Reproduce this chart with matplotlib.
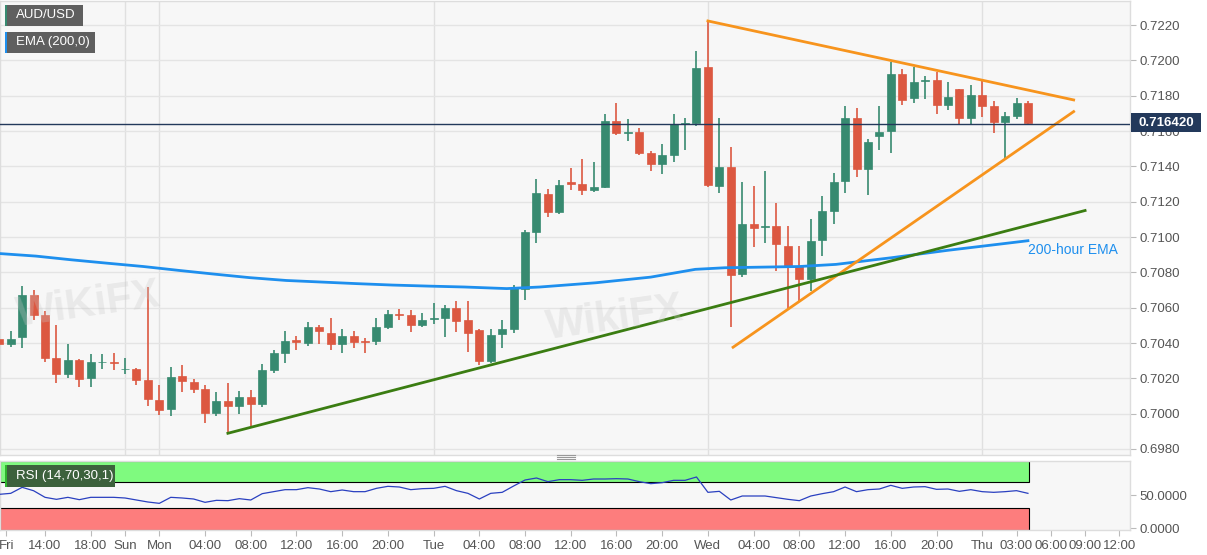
import numpy as np
import matplotlib.pyplot as plt
from matplotlib.patches import Rectangle

plt.rcParams['font.family'] = ['Liberation Sans', 'DejaVu Sans']

W, H = 1207, 555

# hourly candles, hour 0 = Fri 14:00 (weekend gap collapsed)
hours = np.arange(-4, 87)
opens = [0.70421, 0.70393, 0.70434, 0.70674, 0.70560, 0.70314, 0.70224, 0.70303, 0.70200, 0.70290,
         0.70292, 0.70251, 0.70253, 0.70191, 0.70078, 0.70026, 0.70211, 0.70181, 0.70140, 0.70003,
         0.70073, 0.70041, 0.70097, 0.70056, 0.70247, 0.70341, 0.70416, 0.70401, 0.70491, 0.70459,
         0.70393, 0.70438, 0.70410, 0.70412, 0.70491, 0.70566, 0.70556, 0.70500, 0.70535, 0.70541,
         0.70598, 0.70528, 0.70472, 0.70297, 0.70453, 0.70478, 0.70707, 0.71030, 0.71246, 0.71139,
         0.71312, 0.71299, 0.71265, 0.71285, 0.71655, 0.71590, 0.71595, 0.71477, 0.71411, 0.71464,
         0.71641, 0.71643, 0.71965, 0.71291, 0.71394, 0.70793, 0.71075, 0.71056, 0.71062, 0.70950,
         0.70835, 0.70762, 0.70984, 0.71148, 0.71315, 0.71673, 0.71385, 0.71569, 0.71598, 0.71921,
         0.71789, 0.71882, 0.71888, 0.71750, 0.71837, 0.71675, 0.71803, 0.71743, 0.71652, 0.71686,
         0.71760]
highs = [0.70430, 0.70466, 0.70725, 0.70701, 0.70581, 0.70504, 0.70397, 0.70312, 0.70335, 0.70335,
         0.70346, 0.70316, 0.70260, 0.70719, 0.70163, 0.70262, 0.70273, 0.70196, 0.70163, 0.70121,
         0.70172, 0.70131, 0.70132, 0.70283, 0.70363, 0.70468, 0.70438, 0.70519, 0.70504, 0.70541,
         0.70478, 0.70466, 0.70431, 0.70543, 0.70584, 0.70594, 0.70584, 0.70571, 0.70626, 0.70613,
         0.70635, 0.70635, 0.70478, 0.70481, 0.70532, 0.70726, 0.71039, 0.71327, 0.71270, 0.71321,
         0.71389, 0.71439, 0.71426, 0.71697, 0.71759, 0.71670, 0.71618, 0.71486, 0.71528, 0.71697,
         0.71673, 0.72053, 0.72223, 0.71673, 0.71507, 0.71310, 0.71291, 0.71376, 0.71195, 0.71063,
         0.70950, 0.71101, 0.71233, 0.71360, 0.71741, 0.71728, 0.71552, 0.71741, 0.71993, 0.71949,
         0.71963, 0.71912, 0.71935, 0.71880, 0.71840, 0.71859, 0.71897, 0.71771, 0.71709, 0.71789,
         0.71771]
lows = [0.70294, 0.70378, 0.70374, 0.70528, 0.70294, 0.70172, 0.70200, 0.70149, 0.70153, 0.70251,
        0.70247, 0.70222, 0.70163, 0.70044, 0.69994, 0.69984, 0.70121, 0.70119, 0.69947, 0.69984,
        0.69891, 0.69998, 0.69928, 0.70037, 0.70228, 0.70289, 0.70359, 0.70384, 0.70397, 0.70363,
        0.70346, 0.70369, 0.70346, 0.70388, 0.70481, 0.70528, 0.70463, 0.70491, 0.70509, 0.70434,
        0.70463, 0.70350, 0.70275, 0.70288, 0.70369, 0.70457, 0.70645, 0.70966, 0.71116, 0.71130,
        0.71267, 0.71237, 0.71257, 0.71280, 0.71580, 0.71543, 0.71462, 0.71374, 0.71359, 0.71424,
        0.71492, 0.71630, 0.71282, 0.71248, 0.70491, 0.70774, 0.70942, 0.70965, 0.70807, 0.70594,
        0.70632, 0.70696, 0.70890, 0.71071, 0.71250, 0.71340, 0.71238, 0.71492, 0.71475, 0.71746,
        0.71757, 0.71780, 0.71696, 0.71719, 0.71635, 0.71633, 0.71679, 0.71588, 0.71447, 0.71667,
        0.71639]
closes = [0.70393, 0.70421, 0.70673, 0.70560, 0.70313, 0.70224, 0.70303, 0.70198, 0.70290, 0.70292,
          0.70288, 0.70254, 0.70191, 0.70082, 0.70022, 0.70209, 0.70185, 0.70140, 0.70003, 0.70073,
          0.70041, 0.70097, 0.70056, 0.70245, 0.70341, 0.70410, 0.70404, 0.70491, 0.70466, 0.70393,
          0.70438, 0.70406, 0.70403, 0.70491, 0.70566, 0.70558, 0.70500, 0.70530, 0.70539, 0.70598,
          0.70522, 0.70457, 0.70297, 0.70444, 0.70479, 0.70710, 0.71030, 0.71248, 0.71139, 0.71293,
          0.71299, 0.71265, 0.71284, 0.71655, 0.71590, 0.71594, 0.71477, 0.71411, 0.71464, 0.71642,
          0.71643, 0.71955, 0.71297, 0.71394, 0.70787, 0.71071, 0.71052, 0.71064, 0.70958, 0.70837,
          0.70762, 0.70980, 0.71148, 0.71313, 0.71673, 0.71385, 0.71535, 0.71596, 0.71921, 0.71776,
          0.71880, 0.71890, 0.71750, 0.71790, 0.71671, 0.71803, 0.71743, 0.71652, 0.71686, 0.71760,
          0.71647]

# 200-hour EMA
ema_hours = [-3.9, -0.8, 2.3, 5.4, 8.6, 11.7, 14.8, 17.9, 21.1, 24.2, 27.3, 30.4, 33.6, 36.7,
             40.4, 43.3, 48.2, 53.0, 56.9, 59.5, 66.0, 69.2, 74.1, 78.9, 86.0]
ema_vals = [0.70906, 0.70892, 0.70871, 0.70852, 0.70833, 0.70811, 0.70790, 0.70770, 0.70754,
            0.70745, 0.70736, 0.70728, 0.70722, 0.70717, 0.70708, 0.70717, 0.70741, 0.70773,
            0.70817, 0.70826, 0.70833, 0.70845, 0.70883, 0.70924, 0.70979]

rsi_vals = [51, 52.5, 61.5, 56.4, 46.5, 43.5, 46.5, 43, 46.5, 46.5, 46.5, 45.5, 42.5, 39.5, 37.5,
            46.5, 45.5, 44, 39, 42, 41.5, 44.5, 42.5, 52, 55, 58, 58, 61, 59, 55, 57.5, 55, 55, 60,
            63, 62, 58, 59.5, 60, 63, 56.5, 52.5, 44, 52.5, 54, 63.5, 72.5, 75.5, 70, 73, 73, 72,
            74, 74, 74.5, 74, 70, 67, 68.5, 72, 72, 77, 54, 55.5, 42.5, 48.5, 48.5, 48.5, 46, 43.5,
            41.5, 48.5, 52, 55, 62, 55, 58, 59, 64.5, 60, 62, 62.5, 58.5, 59, 55.5, 58, 55, 54, 55,
            56.5, 52.5]

last_price = 0.716420
upper_line = ([58, 90], [0.72223, 0.71776])
lower_line = ([60.2, 90], [0.70376, 0.71710])
green_line = ([16, 91], [0.69889, 0.71150])

tick_pos = [-3.4, 0, 4, 7, 10, 14, 18, 22, 26, 30, 34, 38, 42, 46, 50, 54, 58, 62, 66, 70, 74, 78,
            82, 85, 88, 91, 94]
tick_lab = ['Fri', '14:00', '18:00', 'Sun', 'Mon', '04:00', '08:00', '12:00', '16:00', '20:00',
            'Tue', '04:00', '08:00', '12:00', '16:00', '20:00', 'Wed', '04:00', '08:00', '12:00',
            '16:00', '20:00', 'Thu', '03:00', '06:00', '09:00', '12:00']
day_lines = [7, 10, 34, 58, 82]
price_ticks = [0.6980, 0.7000, 0.7020, 0.7040, 0.7060, 0.7080, 0.7100, 0.7120, 0.7140, 0.7160,
               0.7180, 0.7200, 0.7220]

up_col, down_col = '#378a70', '#dc5841'
txt_col = '#555555'
xmin, xmax = -3.94, 94.93

fig = plt.figure(figsize=(W / 100, H / 100), dpi=100, facecolor='white')
ax = fig.add_axes([0, 1 - 455 / H, 1130 / W, 454 / H])
rsi = fig.add_axes([0, 1 - 530 / H, 1130 / W, 69 / H])

for a in (ax, rsi):
    a.set_facecolor('#f7f7f7')
    a.set_xlim(xmin, xmax)
    a.yaxis.tick_right()
    a.tick_params(axis='y', length=4, color='#bbbbbb', labelcolor=txt_col, labelsize=9.5, pad=3)
    for s in a.spines.values():
        s.set_color('#dddddd')
        s.set_linewidth(1)

# main price panel
ax.set_ylim(0.69766, 0.72336)
ax.set_yticks(price_ticks)
ax.set_yticklabels([f'{p:.4f}' for p in price_ticks])
ax.set_xticks([])
ax.grid(axis='y', color='#e4e4e4', lw=1)
ax.set_axisbelow(True)
for d in day_lines:
    ax.axvline(d, color='#e0e0e0', lw=1, zorder=0)

# faint watermarks
for (x, y, s) in [(88, 305, 'WiKiFX'), (615, 318, 'WikiFX')]:
    fig.text(x / W, 1 - y / H, s, fontsize=30, fontweight='bold', color='#c8c8c8', alpha=0.3,
             ha='center', va='center', rotation=8)

cols = [up_col if c >= o else down_col for o, c in zip(opens, closes)]
ax.vlines(hours, lows, highs, colors=cols, lw=1.2, zorder=3)
bottoms = [min(o, c) for o, c in zip(opens, closes)]
heights = [max(abs(c - o), 0.00003) for o, c in zip(opens, closes)]
ax.bar(hours, heights, bottom=bottoms, width=0.7, color=cols, edgecolor=cols, lw=0.5, zorder=4)

ax.plot(ema_hours, ema_vals, color='#1e8fee', lw=2, zorder=5)
ax.plot(*upper_line, color='#f7941d', lw=2, zorder=6)
ax.plot(*lower_line, color='#f7941d', lw=2, zorder=6)
ax.plot(*green_line, color='#3b7d12', lw=2, zorder=6)
ax.axhline(last_price, color='#23395b', lw=1, zorder=7)
ax.text(86.0, 0.70924, '200-hour EMA', color='#1e8fee', fontsize=10, va='center', ha='left')

# last price label
fig.add_artist(Rectangle((1131 / W, 1 - 132 / H), 70 / W, 19 / H, transform=fig.transFigure,
                         facecolor='#23395b', edgecolor='none', zorder=10))
fig.text(1166 / W, 1 - 122.5 / H, f'{last_price:.6f}', color='white', fontsize=9.5,
         fontweight='bold', ha='center', va='center', zorder=11)

# RSI panel
rsi.set_ylim(-2.5, 101)
rsi.set_yticks([0, 50])
rsi.set_yticklabels(['0.0000', '50.0000'])
band_end = 86.1
rsi.add_patch(Rectangle((xmin, 70), band_end - xmin, 31, facecolor='#7ffa7f', edgecolor='black',
                        lw=0.8, zorder=1))
rsi.add_patch(Rectangle((xmin, -2.5), band_end - xmin, 32.5, facecolor='#fd7d7d',
                        edgecolor='black', lw=0.8, zorder=1))
rsi.plot(hours, rsi_vals, color='#2a40c0', lw=0.9, zorder=3)
rsi.set_xticks(tick_pos)
rsi.set_xticklabels(tick_lab)
rsi.tick_params(axis='x', length=4, color='#bbbbbb', labelcolor=txt_col, labelsize=9.5, pad=3)

# drag handle between panels
for dy in (455, 457, 459):
    fig.add_artist(plt.Line2D([557 / W, 575 / W], [1 - dy / H, 1 - dy / H], color='#999999',
                              lw=0.8, transform=fig.transFigure))


def tag(x, y, w, h, text, face, stripe):
    fig.add_artist(Rectangle((x / W, 1 - (y + h) / H), w / W, h / H, transform=fig.transFigure,
                             facecolor=face, edgecolor='none', zorder=10))
    fig.add_artist(Rectangle((x / W, 1 - (y + h) / H), 2 / W, h / H, transform=fig.transFigure,
                             facecolor=stripe, edgecolor='none', zorder=11))
    fig.text((x + 11) / W, 1 - (y + h / 2) / H, text, color='white', fontsize=9.5,
             ha='left', va='center', zorder=12)


tag(5, 5, 78, 21, 'AUD/USD', '#5f5f5f', '#378a70')
tag(5, 32, 90, 21, 'EMA (200,0)', '#5f5f5f', '#1e8fee')
tag(5, 465, 110, 22, 'RSI (14,70,30,1)', '#3c613c', '#2fb52f')

fig.savefig('out.png', dpi=100, facecolor='white')
